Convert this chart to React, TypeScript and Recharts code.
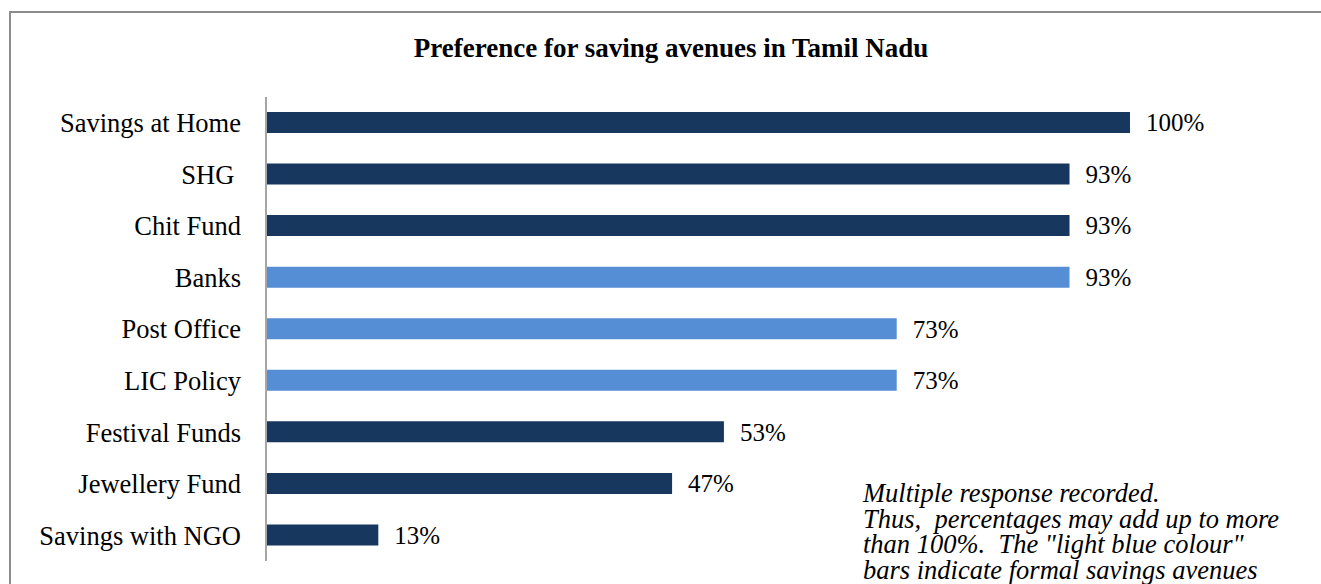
import { BarChart, Bar, XAxis, YAxis, Cell, LabelList } from "recharts"

const categories = [
  "Savings at Home",
  "SHG\u00a0",
  "Chit Fund",
  "Banks",
  "Post Office",
  "LIC Policy",
  "Festival Funds",
  "Jewellery Fund",
  "Savings with NGO",
]
const shares = [100, 93, 93, 93, 73, 73, 53, 47, 13]
const formal = [false, false, false, true, true, true, false, false, false]

const noteLines = [
  "Multiple response recorded.",
  "Thus,\u00a0 percentages may add up to more",
  "than 100%.\u00a0 The \"light blue colour\"",
  "bars indicate formal savings avenues",
]

const DARK = "#17375e"
const LIGHT = "#558ed5"
const FONT = "'Liberation Serif', 'Times New Roman', serif"

const data = categories.map((name, i) => ({ name, value: shares[i], formal: formal[i] }))

export default function App() {
  return (
    <div
      style={{
        position: "fixed",
        left: 0,
        top: 0,
        width: 1321,
        height: 584,
        overflow: "hidden",
        fontFamily: FONT,
        background: "#fff",
      }}
    >
      <div
        style={{
          position: "absolute",
          left: 9,
          top: 11,
          width: 1400,
          height: 700,
          border: "2px solid #8c8c8c",
        }}
      />
      <div
        style={{
          position: "absolute",
          left: 0,
          top: 33,
          width: 1342,
          textAlign: "center",
          fontSize: 27,
          fontWeight: "bold",
          color: "#000",
        }}
      >
        Preference for saving avenues in Tamil Nadu
      </div>
      <BarChart
        width={1321}
        height={584}
        data={data}
        layout="vertical"
        margin={{ top: 97, right: 191, bottom: 23, left: 0 }}
        barCategoryGap={15}
        style={{ position: "absolute", left: 0, top: 0 }}
      >
        <XAxis type="number" domain={[0, 100]} hide />
        <YAxis
          type="category"
          dataKey="name"
          width={266}
          tickLine={false}
          tickSize={0}
          tickMargin={25}
          axisLine={{ stroke: "#a6a6a6", strokeWidth: 2 }}
          tick={{ fill: "#000", fontSize: 26.5, fontFamily: FONT }}
          interval={0}
        />
        <Bar dataKey="value" barSize={21} isAnimationActive={false}>
          {data.map((d) => (
            <Cell key={d.name} fill={d.formal ? LIGHT : DARK} />
          ))}
          <LabelList
            dataKey="value"
            position="right"
            offset={16}
            formatter={(v: number) => `${v}%`}
            style={{ fill: "#000", fontSize: 25, fontFamily: FONT }}
          />
        </Bar>
      </BarChart>
      <div
        style={{
          position: "absolute",
          left: 863,
          top: 481,
          fontSize: 26.5,
          fontStyle: "italic",
          lineHeight: "25.7px",
          color: "#000",
          whiteSpace: "nowrap",
        }}
      >
        {noteLines.map((l) => (
          <div key={l} style={{ height: 25.7 }}>
            {l}
          </div>
        ))}
      </div>
    </div>
  )
}
